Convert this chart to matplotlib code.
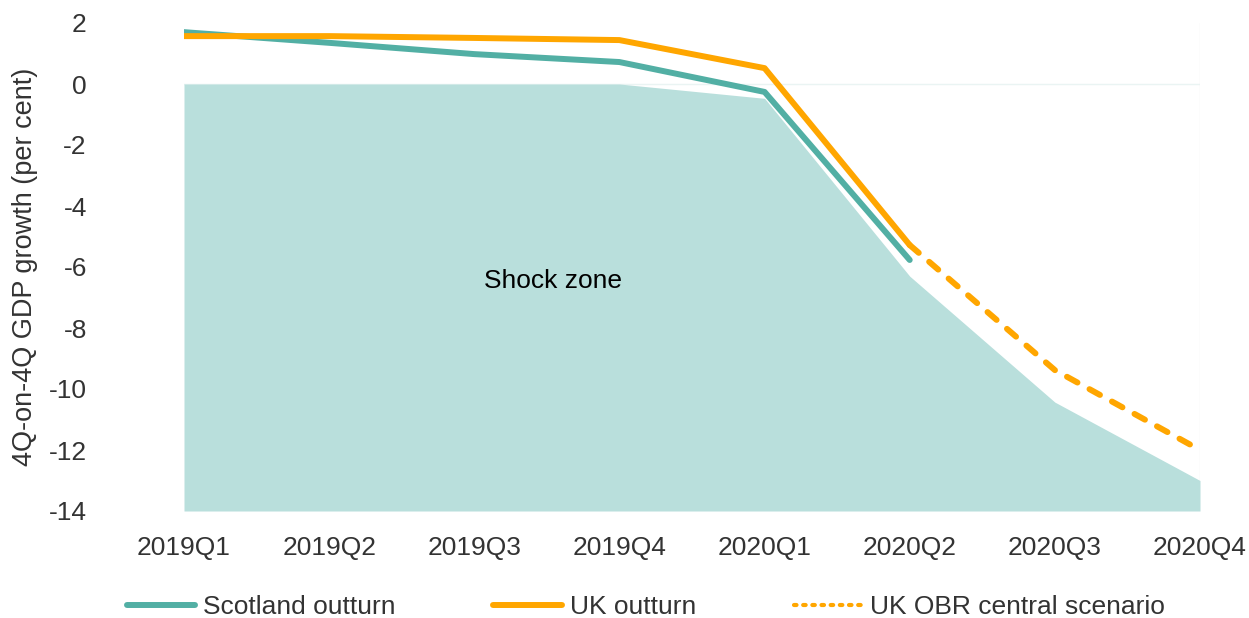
import numpy as np
from matplotlib import pyplot as plt
import matplotlib.lines as mlines

plt.rcParams['font.family'] = ['Liberation Sans', 'DejaVu Sans']
plt.rcParams['axes.unicode_minus'] = False

quarters = ['2019Q1', '2019Q2', '2019Q3', '2019Q4', '2020Q1', '2020Q2', '2020Q3', '2020Q4']

# shaded "shock zone" top boundary, area runs down to -14
shock_top = [0, 0, 0, 0, -0.47, -6.3, -10.43, -13.0]
shock_floor = -14

scotland = [1.7, 1.35, 0.98, 0.72, -0.26, -5.77]
uk = [1.57, 1.57, 1.51, 1.44, 0.52, -5.28]
# OBR central scenario from 2020Q2 onwards
obr = [-5.28, -9.38, -12.0]

teal = '#52afa4'
orange = '#ffa600'
fill_col = '#b9dfdc'
text_col = '#333333'

fig = plt.figure(figsize=(12.49, 6.18), dpi=100)
ax = fig.add_axes([184 / 1249, 1 - 511 / 618, (1200 - 184) / 1249, (511 - 23) / 618])

x = np.arange(len(quarters))
ax.fill_between(x, shock_floor, shock_top, color=fill_col, linewidth=0, zorder=1)
ax.axhline(0, color='#eaf4f3', linewidth=1, zorder=0)
ax.axvline(len(quarters) - 1, color='#f0f0f0', linewidth=1, zorder=0)

ax.plot(x[:len(scotland)], scotland, color=teal, linewidth=4.3, solid_capstyle='round', zorder=3)
ax.plot(x[:len(uk)], uk, color=orange, linewidth=4.3, solid_capstyle='round', zorder=4)
ax.plot(x[5:5 + len(obr)], obr, color=orange, linewidth=4.3, dashes=(2.0, 2.3),
        dash_capstyle='round', zorder=4)

ax.text(2.54, -6.45, 'Shock zone', fontsize=19, color='black', ha='center', va='center', zorder=5)

ax.set_xlim(0, len(quarters) - 1)
ax.set_ylim(-14, 2)
ax.set_xticks(x)
ax.set_xticklabels(quarters)
ax.set_yticks(np.arange(-14, 3, 2))
ax.tick_params(axis='both', length=0, labelsize=19, labelcolor=text_col)
ax.tick_params(axis='x', pad=18)
ax.tick_params(axis='y', pad=70)
for sp in ax.spines.values():
    sp.set_visible(False)

ax.set_ylabel('4Q-on-4Q GDP growth (per cent)', fontsize=19.5, color=text_col)
ax.yaxis.set_label_coords(-146 / 1016, 0.5)

h1 = mlines.Line2D([], [], color=teal, linewidth=4.3, solid_capstyle='round')
h2 = mlines.Line2D([], [], color=orange, linewidth=4.3, solid_capstyle='round')
h3 = mlines.Line2D([], [], color=orange, linewidth=3, linestyle=(0, (0.6, 1.6)),
                   dash_capstyle='round')
fig.legend(handles=[h1, h2, h3],
           labels=['Scotland outturn', 'UK outturn', 'UK OBR central scenario'],
           loc='center', bbox_to_anchor=(646 / 1249, 1 - 607 / 618), ncol=3,
           frameon=False, fontsize=19, handlelength=2.6, handletextpad=0.3,
           columnspacing=3.7, labelcolor=text_col)

plt.savefig('out.png', dpi=100)
